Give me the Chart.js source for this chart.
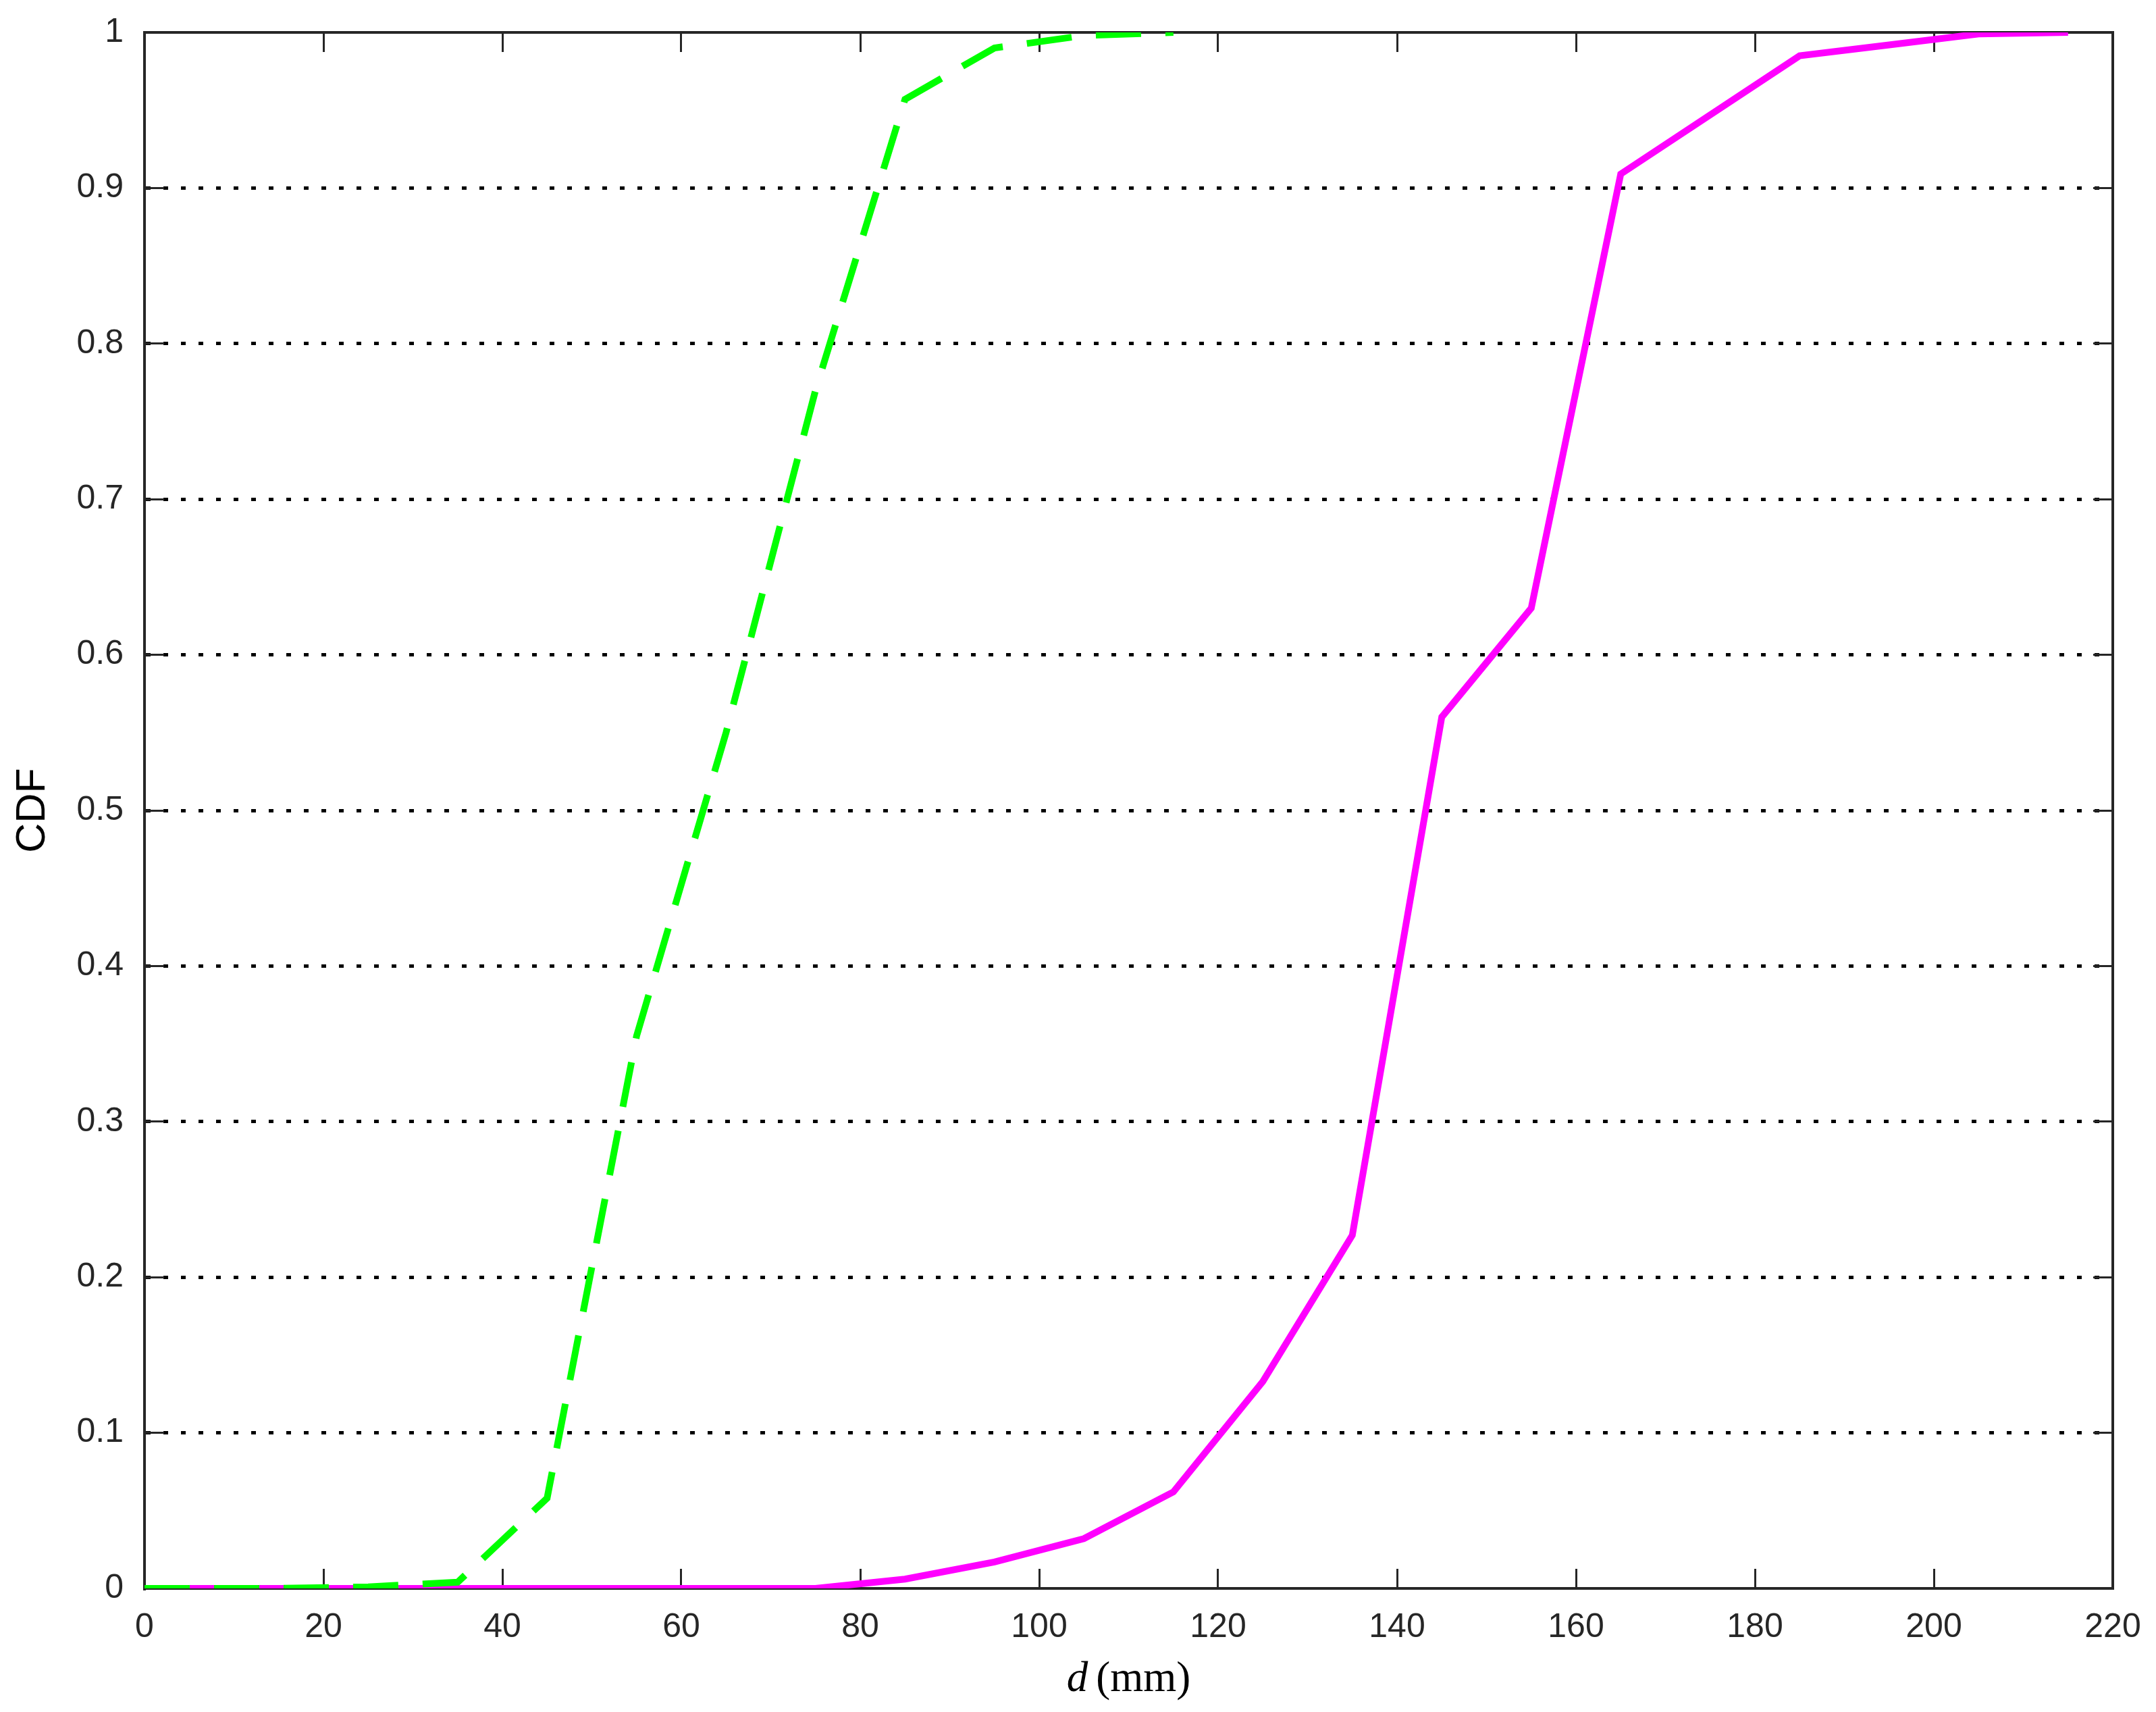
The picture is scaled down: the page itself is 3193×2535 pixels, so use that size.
<!DOCTYPE html>
<html>
<head>
<meta charset="utf-8">
<title>CDF of d (mm)</title>
<script src="https://cdn.jsdelivr.net/npm/chart.js@4.4.1/dist/chart.umd.min.js"></script>
<style>
  html, body { margin: 0; padding: 0; background: #ffffff; }
  #wrap { width: 3193px; height: 2535px; position: relative; }
</style>
</head>
<body>
<div id="wrap"><canvas id="cdfChart"></canvas></div>
<script>
/* ---------------------------------------------------------
   Data
--------------------------------------------------------- */
const xTicks = [0, 20, 40, 60, 80, 100, 120, 140, 160, 180, 200, 220];
const yTickLabels = ["0", "0.1", "0.2", "0.3", "0.4", "0.5", "0.6", "0.7", "0.8", "0.9", "1"];

// green dashed curve
const dDashed   = [0, 5, 15, 25, 35, 45, 55, 65, 75, 85, 95, 105, 115];
const cdfDashed = [0, 0, 0, 0.001, 0.004, 0.058, 0.355, 0.55, 0.77, 0.957, 0.99, 0.998, 1.0];

// magenta solid curve
const dSolid   = [0, 5, 15, 25, 35, 45, 55, 65, 75, 85, 95, 105, 115, 125, 135, 145, 155, 165, 175, 185, 195, 205, 215];
const cdfSolid = [0, 0, 0, 0, 0, 0, 0, 0, 0, 0.006, 0.017, 0.032, 0.062, 0.133, 0.227, 0.56, 0.63, 0.909, 0.947, 0.985, 0.992, 0.999, 1.0];

/* ---------------------------------------------------------
   Frame settings
--------------------------------------------------------- */
const axisColor = "#262626";
const tickLen = -29;          // negative = ticks point into the plot
const tickFont = { family: "'Liberation Sans', Arial, sans-serif", size: 50 };

const toPoints = (xs, ys) => xs.map((x, i) => ({ x, y: ys[i] }));

// fixed box sizes so the plot area sits where the reference has it
const fixBox = (size) => (s) => {
  if (s.isHorizontal()) s.height = size;
  else s.width = size;
  s.paddingTop = 0;
  s.paddingBottom = 0;
  s.paddingLeft = 0;
  s.paddingRight = 0;
};

// x-axis title: italic d followed by upright (mm)
const xTitlePlugin = {
  id: "xTitle",
  afterDraw(chart) {
    const { ctx, chartArea } = chart;
    const cx = (chartArea.left + chartArea.right) / 2;
    const baseY = chartArea.bottom + 152;
    const italic = "italic 63px 'Liberation Serif', 'Times New Roman', serif";
    const upright = "63px 'Liberation Serif', 'Times New Roman', serif";
    const gap = 12;
    ctx.save();
    ctx.fillStyle = "#000000";
    ctx.textBaseline = "alphabetic";
    ctx.textAlign = "left";
    ctx.font = italic;
    const wD = ctx.measureText("d").width;
    ctx.font = upright;
    const wRest = ctx.measureText("(mm)").width;
    const x0 = cx - (wD + gap + wRest) / 2;
    ctx.font = italic;
    ctx.fillText("d", x0, baseY);
    ctx.font = upright;
    ctx.fillText("(mm)", x0 + wD + gap, baseY);
    ctx.restore();
  },
};

const innerTicks = {
  drawTicks: true,
  tickLength: tickLen,
  tickColor: axisColor,
  tickWidth: 3,
  tickBorderDash: [],
};

new Chart(document.getElementById("cdfChart"), {
  type: "line",
  data: {
    datasets: [
      {
        label: "dashed",
        data: toPoints(dDashed, cdfDashed),
        borderColor: "#00ff00",
        backgroundColor: "#00ff00",
        borderWidth: 10,
        borderDash: [67, 36],
        borderCapStyle: "butt",
        pointRadius: 0,
        tension: 0,
        fill: false,
        order: 0,
      },
      {
        label: "solid",
        data: toPoints(dSolid, cdfSolid),
        borderColor: "#ff00ff",
        backgroundColor: "#ff00ff",
        borderWidth: 10,
        pointRadius: 0,
        tension: 0,
        fill: false,
        order: 1,
      },
    ],
  },
  options: {
    responsive: true,
    maintainAspectRatio: false,
    animation: false,
    layout: { padding: 0 },
    plugins: {
      legend: { display: false },
      tooltip: { enabled: false },
    },
    scales: {
      x: {
        type: "linear",
        position: "bottom",
        min: 0,
        max: 220,
        afterBuildTicks: (s) => { s.ticks = xTicks.map((v) => ({ value: v })); },
        afterFit: fixBox(183),
        border: { display: true, color: axisColor, width: 4 },
        grid: { drawOnChartArea: false, ...innerTicks },
        ticks: {
          color: axisColor,
          font: tickFont,
          padding: 57,
          maxRotation: 0,
          autoSkip: false,
          callback: (v) => String(v),
        },
      },
      x2: {
        type: "linear",
        position: "top",
        min: 0,
        max: 220,
        afterBuildTicks: (s) => { s.ticks = xTicks.map((v) => ({ value: v })); },
        afterFit: fixBox(48),
        border: { display: true, color: axisColor, width: 4 },
        grid: { drawOnChartArea: false, ...innerTicks },
        ticks: { display: false },
      },
      y: {
        type: "linear",
        position: "left",
        min: 0,
        max: 1,
        afterBuildTicks: (s) => { s.ticks = yTickLabels.map((t, i) => ({ value: i / 10 })); },
        afterFit: fixBox(214),
        // in v4 border.dash styles the grid lines, not the axis line
        border: { display: true, color: axisColor, width: 4, dash: [7, 19] },
        grid: {
          drawOnChartArea: true,
          color: (c) => (c.tick && (c.tick.value === 0 || c.tick.value === 1) ? "rgba(0,0,0,0)" : "#000000"),
          lineWidth: 5,
          ...innerTicks,
        },
        ticks: {
          color: axisColor,
          font: tickFont,
          padding: 60,
          autoSkip: false,
          callback: (v, i) => yTickLabels[i],
        },
        title: {
          display: true,
          text: "CDF",
          color: "#000000",
          font: { family: "'Liberation Sans', Arial, sans-serif", size: 61 },
          padding: { top: 13, bottom: 0 },
        },
      },
      y2: {
        type: "linear",
        position: "right",
        min: 0,
        max: 1,
        afterBuildTicks: (s) => { s.ticks = yTickLabels.map((t, i) => ({ value: i / 10 })); },
        afterFit: fixBox(64),
        border: { display: true, color: axisColor, width: 4 },
        grid: { drawOnChartArea: false, ...innerTicks },
        ticks: { display: false },
      },
    },
  },
  plugins: [xTitlePlugin],
});
</script>
</body>
</html>
